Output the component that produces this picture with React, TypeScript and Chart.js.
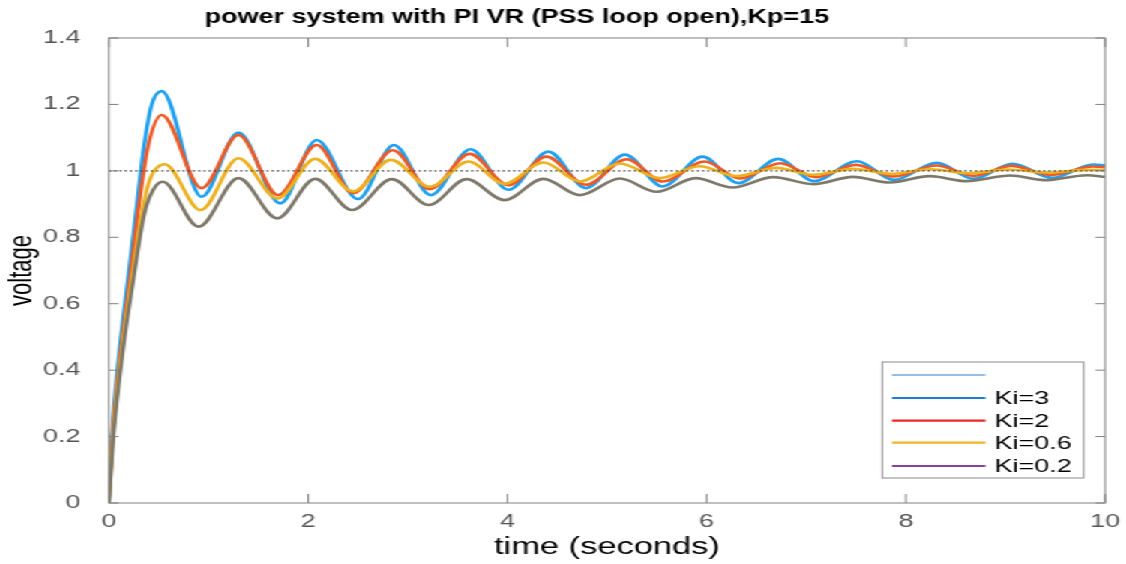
import React, { useEffect, useRef } from 'react';
import { Chart, registerables } from 'chart.js';

Chart.register(...registerables);

// ---------- data ----------
const TITLE = 'power system with PI VR (PSS loop open),Kp=15';
const X_TITLE = 'time (seconds)';
const Y_TITLE = 'voltage';
const SERIES_LABELS = ['', 'Ki=3', 'Ki=2', 'Ki=0.6', 'Ki=0.2'];

const KI3_T = [0, 0.03, 0.11, 0.19, 0.27, 0.35, 0.43, 0.53, 0.93, 1.3, 1.72, 2.085, 2.5, 2.86, 3.23, 3.63, 4.01, 4.41, 4.79, 5.18, 5.56, 5.96, 6.32, 6.72, 7.08, 7.51, 7.88, 8.31, 8.68, 9.07, 9.47, 9.88, 10];
const KI3_V = [0, 0.2, 0.47, 0.67, 0.87, 1.07, 1.2, 1.24, 0.922, 1.115, 0.902, 1.093, 0.915, 1.078, 0.927, 1.065, 0.943, 1.058, 0.948, 1.049, 0.953, 1.043, 0.963, 1.036, 0.969, 1.029, 0.973, 1.024, 0.976, 1.021, 0.979, 1.019, 1.016];

const KI2_T = [0, 0.035, 0.125, 0.21, 0.29, 0.39, 0.53, 0.93, 1.3, 1.7, 2.085, 2.45, 2.85, 3.22, 3.62, 4.01, 4.39, 4.79, 5.2, 5.56, 5.98, 6.34, 6.74, 7.1, 7.5, 7.87, 8.31, 8.68, 9.06, 9.45, 9.88, 10];
const KI2_V = [0, 0.2, 0.47, 0.67, 0.87, 1.07, 1.168, 0.948, 1.108, 0.927, 1.078, 0.933, 1.062, 0.945, 1.051, 0.957, 1.043, 0.958, 1.035, 0.968, 1.028, 0.977, 1.023, 0.981, 1.018, 0.983, 1.016, 0.985, 1.015, 0.988, 1.013, 1.011];

const KI06_T = [0, 0.04, 0.135, 0.228, 0.33, 0.41, 0.56, 0.92, 1.3, 1.69, 2.07, 2.45, 2.83, 3.22, 3.61, 3.97, 4.36, 4.73, 5.13, 5.53, 5.93, 6.3, 6.7, 7.07, 7.47, 7.85, 8.25, 8.63, 9.03, 9.42, 9.82, 10];
const KI06_V = [0, 0.2, 0.47, 0.67, 0.87, 0.973, 1.02, 0.882, 1.038, 0.917, 1.036, 0.938, 1.033, 0.952, 1.028, 0.961, 1.025, 0.968, 1.022, 0.978, 1.014, 0.984, 1.009, 0.988, 1.006, 0.991, 1.005, 0.993, 1.004, 0.995, 1.003, 1.002];

const KI02_T = [0, 0.045, 0.145, 0.244, 0.355, 0.445, 0.54, 0.9, 1.3, 1.69, 2.07, 2.44, 2.84, 3.21, 3.59, 3.97, 4.36, 4.73, 5.13, 5.5, 5.89, 6.26, 6.67, 7.07, 7.47, 7.84, 8.24, 8.61, 9.05, 9.39, 9.82, 10];
const KI02_V = [0, 0.2, 0.47, 0.67, 0.87, 0.943, 0.967, 0.832, 0.978, 0.857, 0.976, 0.882, 0.975, 0.897, 0.975, 0.912, 0.976, 0.927, 0.977, 0.937, 0.978, 0.95, 0.981, 0.96, 0.982, 0.965, 0.984, 0.969, 0.986, 0.972, 0.987, 0.982];

const BLANK_T: number[] = [];
const BLANK_V: number[] = [];

const REF_T = [0, 10];
const REF_V = [1, 1];

// ---------- styles ----------
const W = 751;
const H = 564;
const SX = 1126 / W;
const FONT = '"Liberation Sans", Arial, Helvetica, sans-serif';
const LINE_COLORS = ['#0072BD', '#1EA0F2', '#EC5A26', '#EDB120', '#7D786A'];
const LEGEND_COLORS = ['#2A7FC8', '#1A7FD0', '#F02424', '#F0B429', '#8A3F9A'];
const LEGEND_WIDTHS = [1, 2.2, 2.2, 2.2, 2.2];

const pts = (t: number[], v: number[]) => t.map((x, i) => ({ x, y: v[i] }));

const frameAndLegend = {
  id: 'frameAndLegend',
  afterDraw(chart: any) {
    const { ctx, chartArea: a, scales } = chart;
    ctx.save();
    // box
    ctx.strokeStyle = '#808080';
    ctx.lineWidth = 1;
    ctx.strokeRect(a.left, a.top, a.right - a.left, a.bottom - a.top);
    // inward ticks
    ctx.beginPath();
    scales.x.ticks.forEach((t: any) => {
      const px = scales.x.getPixelForValue(t.value);
      ctx.moveTo(px, a.bottom);
      ctx.lineTo(px, a.bottom - 9);
      ctx.moveTo(px, a.top);
      ctx.lineTo(px, a.top + 9);
    });
    scales.y.ticks.forEach((t: any) => {
      const py = scales.y.getPixelForValue(t.value);
      ctx.moveTo(a.left, py);
      ctx.lineTo(a.left + 6.5, py);
      ctx.moveTo(a.right, py);
      ctx.lineTo(a.right - 6.5, py);
    });
    ctx.stroke();

    // title
    ctx.save();
    ctx.fillStyle = '#000';
    ctx.font = `bold 20px ${FONT}`;
    ctx.textAlign = 'center';
    ctx.textBaseline = 'middle';
    ctx.translate(344.7, 17);
    ctx.scale(0.9, 1);
    ctx.fillText(TITLE, 0, 0);
    ctx.restore();

    // legend
    const lx0 = 588.4, lx1 = 722.7, ly0 = 362, ly1 = 478;
    ctx.fillStyle = '#fff';
    ctx.fillRect(lx0, ly0, lx1 - lx0, ly1 - ly0);
    ctx.strokeStyle = '#8a8a8a';
    ctx.lineWidth = 1;
    ctx.strokeRect(lx0, ly0, lx1 - lx0, ly1 - ly0);
    const rowY = [375, 398, 420.7, 442.7, 466];
    SERIES_LABELS.forEach((lab, i) => {
      const y = rowY[i];
      ctx.beginPath();
      ctx.strokeStyle = LEGEND_COLORS[i];
      ctx.lineWidth = LEGEND_WIDTHS[i];
      ctx.moveTo(594.9, y);
      ctx.lineTo(657.3, y);
      ctx.stroke();
      ctx.fillStyle = '#000';
      ctx.font = `18px ${FONT}`;
      ctx.textAlign = 'left';
      ctx.textBaseline = 'middle';
      ctx.fillText(lab, 663.3, y + 1);
    });
    ctx.restore();
  },
};

export default function App() {
  const ref = useRef<HTMLCanvasElement>(null);
  useEffect(() => {
    document.body.style.margin = '0';
    const canvas = ref.current!;
    const line = (label: string, data: any[], color: string, width: number, order: number, extra: any = {}) => ({
      label,
      data,
      borderColor: color,
      backgroundColor: color,
      borderWidth: width,
      pointRadius: 0,
      fill: false,
      cubicInterpolationMode: 'monotone',
      order,
      ...extra,
    });
    const chart = new Chart(canvas, {
      type: 'line',
      data: {
        datasets: [
          line(SERIES_LABELS[0], pts(BLANK_T, BLANK_V), LINE_COLORS[0], 1, 5),
          line(SERIES_LABELS[1], pts(KI3_T, KI3_V), LINE_COLORS[1], 2.6, 4),
          line(SERIES_LABELS[2], pts(KI2_T, KI2_V), LINE_COLORS[2], 2.6, 3),
          line(SERIES_LABELS[3], pts(KI06_T, KI06_V), LINE_COLORS[3], 2.6, 2),
          line(SERIES_LABELS[4], pts(KI02_T, KI02_V), LINE_COLORS[4], 2.6, 1),
          line('ref', pts(REF_T, REF_V), '#3a3a3a', 1.2, 0, { borderDash: [1.5, 2], cubicInterpolationMode: 'default', tension: 0 }),
        ],
      },
      options: {
        responsive: false,
        animation: false,
        layout: { padding: { top: 38, right: W - 1105 / SX, bottom: 0, left: 0 } },
        plugins: {
          legend: { display: false },
          title: { display: false },
          tooltip: { enabled: false },
        },
        scales: {
          x: {
            type: 'linear',
            min: 0,
            max: 10,
            ticks: { stepSize: 2, padding: 8, color: '#555', font: { family: FONT, size: 18 } },
            grid: { display: false, drawTicks: false },
            border: { display: false },
            title: { display: true, text: X_TITLE, color: '#000', font: { family: FONT, size: 23, lineHeight: 1 }, padding: { top: 0, bottom: 4.5 } },
            afterFit: (s: any) => { s.height = 61; s.paddingLeft = 0; s.paddingRight = 0; },
          },
          y: {
            min: 0,
            max: 1.4,
            ticks: {
              stepSize: 0.2,
              padding: 19,
              color: '#555',
              font: { family: FONT, size: 18 },
              callback: (v: any) => Number(v).toFixed(1).replace(/\.0$/, ''),
            },
            grid: { display: false, drawTicks: false },
            border: { display: false },
            title: { display: true, text: Y_TITLE, color: '#000', font: { family: FONT, size: 22, lineHeight: 1 }, padding: { top: 4, bottom: 0 } },
            afterFit: (s: any) => { s.width = 109 / SX; s.paddingTop = 0; s.paddingBottom = 0; },
          },
        },
      } as any,
      plugins: [frameAndLegend],
    });
    return () => chart.destroy();
  }, []);
  return (
    <div style={{ width: W, height: H, transform: `scaleX(${SX})`, transformOrigin: '0 0', background: '#fff' }}>
      <canvas ref={ref} width={W} height={H} style={{ display: 'block' }} />
    </div>
  );
}
